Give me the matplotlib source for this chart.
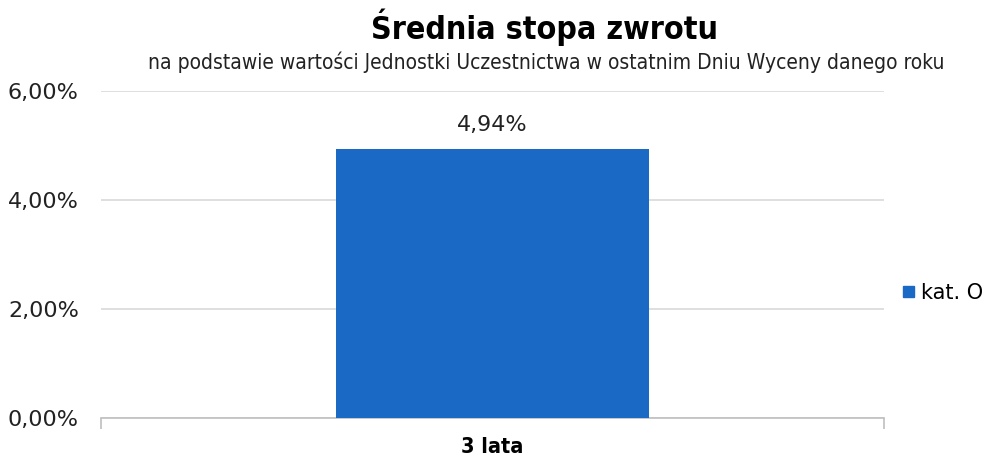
import matplotlib
matplotlib.use("Agg")
import matplotlib.pyplot as plt
from matplotlib.ticker import FuncFormatter
from matplotlib.patches import Patch

categories = ["3 lata"]
series_name = "kat. O"
values = [4.94]
y_ticks = [0, 2, 4, 6]

title = "Średnia stopa zwrotu"
subtitle = "na podstawie wartości Jednostki Uczestnictwa w ostatnim Dniu Wyceny danego roku"

plt.rcParams['font.family'] = ['DejaVu Sans']

fig = plt.figure(figsize=(9.87, 4.59), dpi=100)
ax = fig.add_axes([101/987, 41/459, 783/987, 327/459])

x = list(range(len(categories)))
bars = ax.bar(x, values, width=0.4, color="#1A69C4", zorder=3)

ax.set_xlim(-0.5, len(categories) - 0.5)
ax.set_ylim(0, 6)
ax.set_yticks(y_ticks)
ax.yaxis.set_major_formatter(FuncFormatter(lambda v, p: f"{v:.2f}%".replace(".", ",")))
ax.grid(axis="y", color="#D9D9D9", linewidth=1.2, zorder=0)
ax.tick_params(axis="y", length=0, pad=16, labelsize=16, labelcolor="#222222")

for s in ["top", "right", "left"]:
    ax.spines[s].set_visible(False)
ax.spines["bottom"].set_color("#BFBFBF")
ax.spines["bottom"].set_linewidth(1.2)

# category boundaries ticks
ax.set_xticks([-0.5, 0.5], minor=False)
ax.set_xticklabels(["", ""])
ax.tick_params(axis="x", which="major", length=8, color="#BFBFBF", width=1.2)
ax.set_xticks(x, minor=True)
ax.set_xticklabels(categories, minor=True, fontsize=15.5, fontweight="bold", stretch="condensed")
ax.tick_params(axis="x", which="minor", length=0, pad=14)

for rect, v in zip(bars, values):
    ax.annotate(f"{v:.2f}%".replace(".", ","), (rect.get_x() + rect.get_width()/2, v),
                xytext=(0, 10), textcoords="offset points", ha="center", va="bottom",
                fontsize=16, color="#222222")

fig.text(545/987, 1 - 27/459, title, ha="center", va="center", fontsize=23,
         fontweight="bold", stretch="condensed")
fig.text(546/987, 1 - 62/459, subtitle, ha="center", va="center", fontsize=15,
         stretch="condensed", color="#222222")

fig.legend(handles=[Patch(color="#1A69C4", label=series_name)], loc="center left",
           bbox_to_anchor=(903/987, 1 - 293/459), frameon=False,
           prop={"size": 15},
           handlelength=0.55, handleheight=0.42, handletextpad=0.3, borderpad=0,
           borderaxespad=0)

fig.savefig("out.png", dpi=100)
